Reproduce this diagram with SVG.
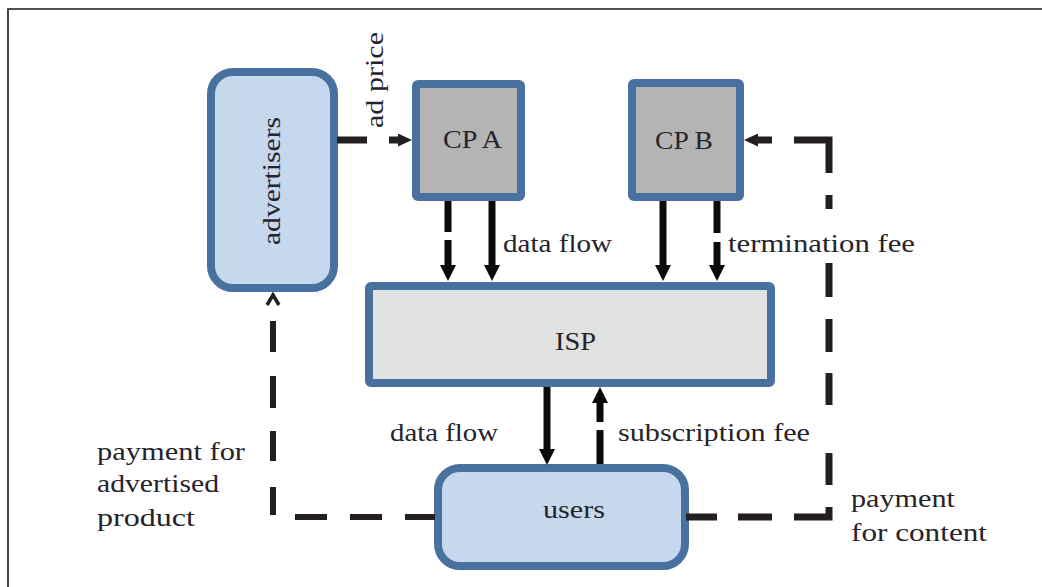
<svg xmlns="http://www.w3.org/2000/svg" width="1042" height="587" viewBox="0 0 1042 587">
<style>
.node{stroke:#48719f;stroke-width:8}
.soft{fill:#c5d8ed}
.cp{fill:#b4b4b4}
.isp{fill:#e0e1e1}
text{font-family:"Liberation Serif","Times New Roman",serif;font-size:25px;fill:#26232a}
.solid{stroke:#0a0c0c;stroke-width:7;fill:none}
.dash{stroke:#231f20;stroke-width:7;fill:none}
.thin{stroke:#231f20;stroke-width:6;fill:none}
</style>
<defs>
<marker id="big" markerUnits="userSpaceOnUse" markerWidth="16" markerHeight="16" viewBox="0 0 16 16" refX="6" refY="8" orient="auto">
<path d="M0,0 L16,8 L0,16 z" fill="#0a0c0c"/>
</marker>
<marker id="small" markerUnits="userSpaceOnUse" markerWidth="14" markerHeight="13" viewBox="0 0 14 13" refX="5" refY="6.5" orient="auto">
<path d="M0,0 L14,6.5 L0,13 z" fill="#231f20"/>
</marker>
</defs>
<rect width="1042" height="587" fill="#ffffff"/>
<path d="M8,587 L8,9 L1042,9" fill="none" stroke="#1a1a1a" stroke-width="1.6"/>

<g id="advertisers">
<rect class="node soft" x="211" y="72" width="123" height="216" rx="22"/>
<text transform="translate(280,245) rotate(-90)" textLength="128" lengthAdjust="spacingAndGlyphs">advertisers</text>
</g>
<g id="cpa">
<rect class="node cp" x="416" y="84" width="105" height="113" rx="2"/>
<text x="443" y="148" textLength="59" lengthAdjust="spacingAndGlyphs">CP A</text>
</g>
<g id="cpb">
<rect class="node cp" x="632" y="83" width="108" height="114" rx="2"/>
<text x="655" y="149" textLength="58" lengthAdjust="spacingAndGlyphs">CP B</text>
</g>
<g id="isp">
<rect class="node isp" x="369" y="286" width="402" height="97" rx="2"/>
<text x="555" y="350" textLength="41" lengthAdjust="spacingAndGlyphs">ISP</text>
</g>
<g id="users">
<rect class="node soft" x="438" y="468" width="247" height="98" rx="22"/>
<text x="543" y="518" textLength="62" lengthAdjust="spacingAndGlyphs">users</text>
</g>

<g id="connectors">
<!-- ad price -->
<path class="dash" d="M337,140 L367,140"/>
<path class="dash" d="M389,140 L403,140" marker-end="url(#small)"/>
<!-- CP A to ISP -->
<path class="solid" d="M448,201 L448,232"/>
<path class="solid" d="M448,240 L448,271" marker-end="url(#big)"/>
<path class="solid" d="M492,201 L492,271" marker-end="url(#big)"/>
<!-- CP B to ISP -->
<path class="solid" d="M663,201 L663,271" marker-end="url(#big)"/>
<path class="solid" d="M717,201 L717,233"/>
<path class="solid" d="M717,242 L717,271" marker-end="url(#big)"/>
<!-- ISP to users -->
<path class="solid" d="M547,387 L547,455" marker-end="url(#big)"/>
<!-- users to ISP -->
<path class="solid" d="M600,464 L600,430"/>
<path class="solid" d="M600,422 L600,397" marker-end="url(#big)"/>
<!-- payment for content loop -->
<path class="dash" d="M686,517 L717,517"/>
<path class="dash" d="M738,517 L772,517"/>
<path class="dash" d="M794,517 L829,517 L829,507"/>
<path class="dash" d="M829,485 L829,453"/>
<path class="dash" d="M829,405 L829,373"/>
<path class="dash" d="M829,352 L829,319"/>
<path class="dash" d="M829,297 L829,263"/>
<path class="dash" d="M829,209 L829,195"/>
<path class="dash" d="M829,173 L829,140 L794,140"/>
<path class="dash" d="M772,140 L753,140" marker-end="url(#small)"/>
<!-- payment for advertised product loop -->
<path class="thin" d="M435,517 L405,517"/>
<path class="thin" d="M382,517 L350,517"/>
<path class="thin" d="M327,517 L295,517"/>
<path class="thin" d="M273,515 L273,487"/>
<path class="thin" d="M273,461 L273,431"/>
<path class="thin" d="M273,408 L273,376"/>
<path class="thin" d="M273,352 L273,321"/>
<polyline points="267,305 273,295 279,305" fill="none" stroke="#231f20" stroke-width="3.5"/>
</g>

<g id="labels">
<text transform="translate(383,128) rotate(-90)" textLength="96" lengthAdjust="spacingAndGlyphs">ad price</text>
<text x="503" y="252" textLength="109" lengthAdjust="spacingAndGlyphs">data flow</text>
<text x="728" y="252" textLength="187" lengthAdjust="spacingAndGlyphs">termination fee</text>
<text x="390" y="441" textLength="108" lengthAdjust="spacingAndGlyphs">data flow</text>
<text x="618" y="441" textLength="192" lengthAdjust="spacingAndGlyphs">subscription fee</text>
<text x="97" y="460" textLength="148" lengthAdjust="spacingAndGlyphs">payment for</text>
<text x="97" y="492" textLength="122" lengthAdjust="spacingAndGlyphs">advertised</text>
<text x="97" y="526" textLength="98" lengthAdjust="spacingAndGlyphs">product</text>
<text x="851" y="507" textLength="104" lengthAdjust="spacingAndGlyphs">payment</text>
<text x="851" y="541" textLength="136" lengthAdjust="spacingAndGlyphs">for content</text>
</g>
</svg>
